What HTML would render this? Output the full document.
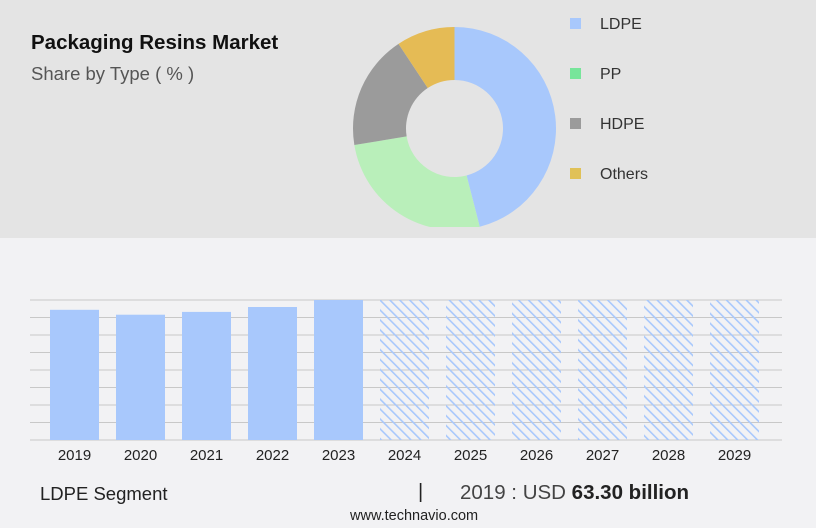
<!DOCTYPE html>
<html><head><meta charset="utf-8"><style>
body{margin:0;width:816px;height:528px;background:#f2f2f4;font-family:"Liberation Sans",sans-serif;position:relative;overflow:hidden}
.top{position:absolute;left:0;top:0;width:816px;height:238px;background:#e4e4e4}
.t{position:absolute;white-space:nowrap}
</style></head><body>
<div class="top"></div>
<div class="t" style="left:31px;top:31px;font-size:20.5px;font-weight:bold;color:#111">Packaging Resins Market</div>
<div class="t" style="left:31px;top:63px;font-size:18.5px;color:#555">Share by Type ( % )</div>
<svg id="donut" style="position:absolute;left:0;top:0" width="816" height="238"></svg>
<svg id="bars" style="position:absolute;left:0;top:238px" width="816" height="240">
<defs><pattern id="hatch" patternUnits="userSpaceOnUse" width="7" height="7" patternTransform="rotate(-45)"><rect x="0" y="0" width="1.6" height="7" fill="#a8c8fc"/></pattern></defs>
</svg>
<div class="t" style="left:40px;top:483px;font-size:18.5px;color:#222">LDPE Segment</div>
<div class="t" style="left:418px;top:481px;font-size:20px;color:#222">|</div>
<div class="t" style="left:460px;top:481px;font-size:20.5px;color:#444">2019 : USD <b style="color:#222">63.30 billion</b></div>
<div class="t" style="left:350px;top:508px;font-size:14.5px;color:#222">www.technavio.com</div>
<script>
const NS="http://www.w3.org/2000/svg";
const types=["LDPE","PP","HDPE","Others"];
const shares=[46,26.4,18.3,9.3];
const colors=["#a8c8fc","#b9efba","#9b9b9b","#e5bb55"];
const legendColors=["#a8c8fc","#77e59a","#9b9b9b","#e0c157"];
const d=document.getElementById("donut");
const cx=454.5,cy=128.5,R=101.5,r=48.5;
const clip=document.createElementNS(NS,"clipPath");clip.setAttribute("id","cl");
const cr=document.createElementNS(NS,"rect");cr.setAttribute("width","816");cr.setAttribute("height","227");clip.appendChild(cr);d.appendChild(clip);
const tot=shares.reduce((a,b)=>a+b,0);let a0=0;
function pt(rad,a){return [cx+rad*Math.sin(a),cy-rad*Math.cos(a)];}
shares.forEach((s,i)=>{
  const a1=a0+s/tot*2*Math.PI;const lg=(a1-a0)>Math.PI?1:0;
  const p1=pt(R,a0),p2=pt(R,a1),p3=pt(r,a1),p4=pt(r,a0);
  const p=document.createElementNS(NS,"path");
  p.setAttribute("d",`M${p1}A${R},${R} 0 ${lg} 1 ${p2}L${p3}A${r},${r} 0 ${lg} 0 ${p4}Z`);
  p.setAttribute("fill",colors[i]);p.setAttribute("clip-path","url(#cl)");
  
  
  d.appendChild(p);a0=a1;
  const lr=document.createElementNS(NS,"rect");
  lr.setAttribute("x",570);lr.setAttribute("y",18+i*50);lr.setAttribute("width",11);lr.setAttribute("height",11);lr.setAttribute("fill",legendColors[i]);
  
  
  d.appendChild(lr);
  const lt=document.createElementNS(NS,"text");
  lt.setAttribute("x",600);lt.setAttribute("y",29+i*50);lt.setAttribute("font-size","16");lt.setAttribute("fill","#333");lt.textContent=types[i];
  
  
  d.appendChild(lt);
});
const years=["2019","2020","2021","2022","2023","2024","2025","2026","2027","2028","2029"];
const values=[93,89.5,91.5,95,100,100,100,100,100,100,100];
const forecast=[false,false,false,false,false,true,true,true,true,true,true];
const b=document.getElementById("bars");
const base=202,top0=62,x0=50,pitch=66,bw=49;
const y=v=>base-(base-top0)*v/100;
for(let g=0;g<=8;g++){
  const l=document.createElementNS(NS,"line");const gy=top0+g*(base-top0)/8;
  l.setAttribute("x1",30);l.setAttribute("x2",782);l.setAttribute("y1",gy);l.setAttribute("y2",gy);l.setAttribute("stroke","#c8c8c8");l.setAttribute("stroke-width","1");
  
  
  b.appendChild(l);
}
years.forEach((yr,i)=>{
  const rc=document.createElementNS(NS,"rect");const bx=x0+i*pitch;
  rc.setAttribute("x",bx);rc.setAttribute("y",y(values[i]));rc.setAttribute("width",bw);rc.setAttribute("height",base-y(values[i]));
  rc.setAttribute("fill",forecast[i]?"url(#hatch)":"#a8c8fc");
  
  
  b.appendChild(rc);
  const t=document.createElementNS(NS,"text");
  t.setAttribute("x",bx+bw/2);t.setAttribute("y",222);t.setAttribute("text-anchor","middle");t.setAttribute("font-size","15");t.setAttribute("fill","#222");t.textContent=yr;
  
  
  b.appendChild(t);
});
</script>
</body></html>
